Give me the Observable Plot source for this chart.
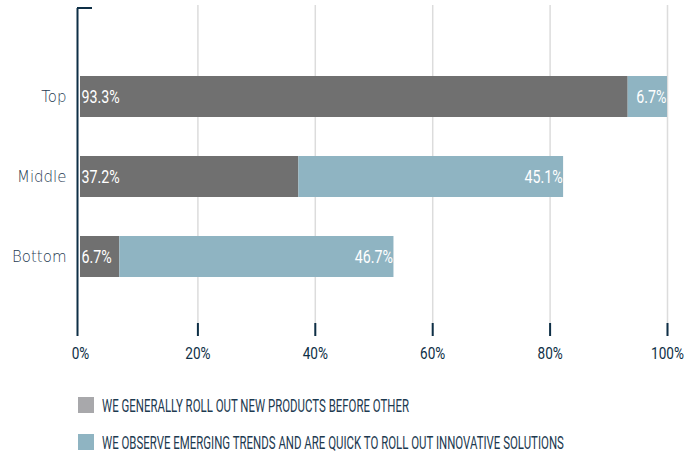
<!DOCTYPE html>
<html><head><meta charset="utf-8">
<script src="https://cdn.jsdelivr.net/npm/d3@7"></script>
<script src="https://cdn.jsdelivr.net/npm/@observablehq/plot@0.6"></script>
<style>
body{margin:0;background:#fff;}
#legend{padding-left:78px;margin-top:27px;font-family:Roboto,sans-serif;color:#1d3a50;}
.row{display:flex;align-items:center;height:16px;margin-bottom:21px;}
.sw{width:16px;height:16px;margin-right:8px;flex:none;}
.lbl{font-size:18px;transform:scaleX(0.635);transform-origin:left center;white-space:nowrap;}
</style></head><body><div id="chart"></div><div id="legend"></div>
<script>
const categories = ["Top", "Middle", "Bottom"];
const seriesNames = [
  "WE GENERALLY ROLL OUT NEW PRODUCTS BEFORE OTHER",
  "WE OBSERVE EMERGING TRENDS AND ARE QUICK TO ROLL OUT INNOVATIVE SOLUTIONS"
];
const rollOutFirst = [93.3, 37.2, 6.7];
const observeTrends = [6.7, 45.1, 46.7];
const xTicks = [0, 20, 40, 60, 80, 100];
const barColors = ["#707070", "#8fb4c2"];
const legendColors = ["#a8a8ab", "#8fb4c2"];
const navy = "#0e2f46";

const rows = [];
categories.forEach((c, i) => {
  rows.push({category: c, series: seriesNames[0], idx: 0, value: rollOutFirst[i], x1: 0, x2: rollOutFirst[i]});
  rows.push({category: c, series: seriesNames[1], idx: 1, value: observeTrends[i], x1: rollOutFirst[i], x2: rollOutFirst[i] + observeTrends[i]});
});

const cornerTick = (index, scales, values, dims) => {
  const x0 = scales.x(0);
  const g = d3.create("svg:line")
    .attr("x1", x0 - 3).attr("x2", x0 + 12)
    .attr("y1", dims.marginTop).attr("y2", dims.marginTop)
    .attr("stroke", navy).attr("stroke-width", 2);
  return g.node();
};

const chart = Plot.plot({
  width: 697,
  height: 370,
  marginLeft: 80,
  marginRight: 30,
  marginTop: 8,
  marginBottom: 34,
  style: {fontFamily: "Roboto, sans-serif", background: "#fff"},
  x: {domain: [0, 100], label: null},
  y: {type: "band", domain: categories, padding: 0.4875, insetTop: 28, insetBottom: 20, label: null},
  color: {domain: seriesNames, range: barColors},
  marks: [
    Plot.gridX(xTicks.slice(1), {stroke: "#dcdcdc", strokeOpacity: 1, strokeWidth: 1.5, insetTop: -3}),
    Plot.barX(rows, {y: "category", x1: "x1", x2: "x2", fill: "series"}),
    Plot.text(rows.filter(d => d.idx === 0), {y: "category", x: "x1", text: d => d.value.toFixed(1) + "%", textAnchor: "start", dx: 1, fill: "white", fontSize: 19}),
    Plot.text(rows.filter(d => d.idx === 1), {y: "category", x: "x2", text: d => d.value.toFixed(1) + "%", textAnchor: "end", dx: -1, fill: "white", fontSize: 19}),
    Plot.ruleX([0], {stroke: navy, strokeWidth: 2, dx: -3}),
    Plot.axisX({ticks: xTicks.slice(1), tickSize: -13, tickFormat: () => "", stroke: navy, strokeWidth: 2, line: true, label: null}),
    Plot.axisX({ticks: xTicks, tickSize: 0, tickPadding: 10, tickFormat: d => d + "%", fill: navy, fontSize: 17, label: null}),
    Plot.axisY({tickSize: 0, tickPadding: 14, fill: "#1f3b52", fontSize: 15, fontWeight: 300, fontFamily: "'DejaVu Sans', sans-serif", label: null}),
    cornerTick
  ]
});
document.getElementById("chart").appendChild(chart);

// condense the tall narrow label font horizontally (text stays real text)
function condense(selector, s) {
  d3.select(chart).selectAll(selector).each(function () {
    const el = d3.select(this);
    const t = el.attr("transform");
    if (t) el.attr("transform", t + ` scale(${s},1)`);
  });
}
condense('g[aria-label="text"] text', 0.75);
condense('g[aria-label="x-axis tick label"] text', 0.8);

const legend = document.getElementById("legend");
seriesNames.forEach((name, i) => {
  const row = document.createElement("div");
  row.className = "row";
  const sw = document.createElement("div");
  sw.className = "sw";
  sw.style.background = legendColors[i];
  const lbl = document.createElement("div");
  lbl.className = "lbl";
  lbl.textContent = name;
  row.appendChild(sw);
  row.appendChild(lbl);
  legend.appendChild(row);
});
</script></body></html>
